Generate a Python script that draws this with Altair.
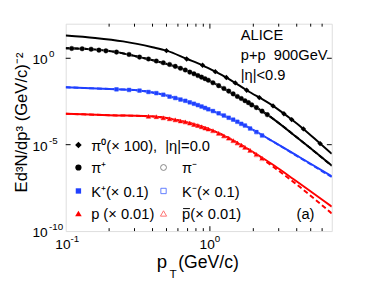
import altair as alt
import pandas as pd

FONT = "Liberation Sans"
BLUE = "#2040ff"
RED = "#ff0000"

# ---------------- data ----------------
# fitted curves (pT in GeV/c, invariant yield)
pi0_fit_pt = [0.1, 0.16, 0.25, 0.4, 0.5, 0.694, 0.888, 1.09, 1.3, 1.8, 2.74, 3.69, 4.45, 5.81, 7.0]
pi0_fit_v = [20.8, 15.0, 9.5, 4.36, 2.76, 0.91, 0.392, 0.168, 0.0768, 0.0141, 0.00175, 2.83e-4, 8.2e-5, 1.16e-5, 2.96e-6]

pip_fit_pt = [0.1, 0.15, 0.225, 0.323, 0.421, 0.612, 1.04, 1.49, 2.5, 4.25, 7.0]
pip_fit_v = [3.83, 3.36, 2.27, 1.18, 0.70, 0.282, 0.040, 0.0074, 5.5e-4, 1.8e-5, 6.2e-7]
pim_fit_v = [3.83, 3.36, 2.27, 1.18, 0.70, 0.282, 0.040, 0.0074, 5.5e-4, 1.8e-5, 6.0e-7]

k_fit_pt = [0.1, 0.221, 0.313, 0.427, 0.612, 1.04, 1.744, 2.79, 4.25, 7.0]
kp_fit_v = [0.0209, 0.0161, 0.0141, 0.00955, 0.00437, 9.1e-4, 1.29e-4, 1.41e-5, 1.75e-6, 1.47e-7]
km_fit_v = [0.0209, 0.0161, 0.0141, 0.00955, 0.00437, 9.1e-4, 1.29e-4, 1.38e-5, 1.65e-6, 1.35e-7]

p_fit_pt = [0.1, 0.2, 0.427, 0.612, 1.04, 1.744, 2.79, 3.81, 7.0]
p_fit_v = [6.18e-4, 5.1e-4, 4.18e-4, 2.48e-4, 6.75e-5, 7.36e-6, 6.19e-7, 1.0e-7, 2.6e-9]
pbar_fit_v = [6.18e-4, 5.1e-4, 4.18e-4, 2.48e-4, 6.75e-5, 7.3e-6, 4.8e-7, 6.8e-8, 1.05e-9]

# measured points
pi0_pt = [0.5, 0.69, 0.89, 1.09, 1.3, 1.5, 1.8, 2.2, 2.74, 3.26, 3.69, 4.45, 5.81]
pi0_v = [2.76, 0.91, 0.392, 0.168, 0.0768, 0.0375, 0.0141, 0.0053, 0.00175, 6.2e-4, 2.83e-4, 8.2e-5, 1.16e-5]

pi_pt = [0.11, 0.13, 0.15, 0.17, 0.19, 0.225, 0.275, 0.325, 0.375, 0.425, 0.475, 0.525, 0.575,
         0.625, 0.675, 0.725, 0.775, 0.825, 0.875, 0.925, 0.975, 1.05, 1.15, 1.25, 1.35, 1.45,
         1.55, 1.65, 1.75, 1.85, 1.95, 2.1, 2.3, 2.5]
pip_v = [3.7, 3.55, 3.36, 2.95, 2.69, 2.27, 1.66, 1.17, 0.91, 0.69, 0.55, 0.44, 0.34,
         0.263, 0.209, 0.158, 0.126, 0.100, 0.081, 0.066, 0.054, 0.038, 0.026, 0.018, 0.0126, 0.0087,
         0.0062, 0.0047, 0.0035, 0.0027, 0.0020, 0.0014, 8.7e-4, 5.5e-4]
pim_v = [3.7, 3.55, 3.36, 2.95, 2.69, 2.27, 1.66, 1.17, 0.91, 0.69, 0.55, 0.44, 0.34,
         0.263, 0.209, 0.158, 0.126, 0.100, 0.081, 0.066, 0.054, 0.038, 0.026, 0.018, 0.0126, 0.0087,
         0.0062, 0.0047, 0.0035, 0.0027, 0.0020, 0.0014, 8.7e-4, 5.4e-4]

k_pt = [0.225, 0.275, 0.325, 0.375, 0.425, 0.475, 0.525, 0.575, 0.625, 0.675, 0.725, 0.775,
        0.825, 0.875, 0.925, 0.975, 1.05, 1.15, 1.25, 1.35, 1.45, 1.55, 1.65, 1.75, 1.9, 2.1, 2.3]
kp_v = [0.01596, 0.0148, 0.01346, 0.0112, 0.00962, 0.00776, 0.00603, 0.00501, 0.00407, 0.00347,
        0.00282, 0.00234, 0.00195, 0.00162, 0.00135, 0.00112, 8.9e-4, 6.6e-4, 4.9e-4, 3.63e-4,
        2.82e-4, 2.14e-4, 1.62e-4, 1.29e-4, 8.7e-5, 5.5e-5, 3.47e-5]
km_v = [0.0158, 0.0147, 0.0134, 0.0112, 0.0096, 0.0078, 0.0060, 0.0050, 0.0041, 0.00345,
        0.0028, 0.00233, 0.00194, 0.00161, 0.00134, 0.00111, 8.8e-4, 6.5e-4, 4.8e-4, 3.6e-4,
        2.8e-4, 2.1e-4, 1.6e-4, 1.27e-4, 8.5e-5, 5.3e-5, 3.3e-5]

p_pt = [0.375, 0.425, 0.475, 0.525, 0.575, 0.625, 0.675, 0.725, 0.775, 0.825, 0.875, 0.925,
        0.975, 1.05, 1.15, 1.25, 1.35, 1.45, 1.55, 1.65, 1.75, 1.9, 2.1, 2.3]
p_v = [4.42e-4, 4.17e-4, 3.63e-4, 3.16e-4, 2.75e-4, 2.37e-4, 2.09e-4, 1.78e-4, 1.48e-4, 1.29e-4,
       1.10e-4, 9.3e-5, 8.1e-5, 6.5e-5, 4.6e-5, 3.3e-5, 2.4e-5, 1.74e-5, 1.29e-5, 9.5e-6, 7.2e-6,
       4.8e-6, 2.8e-6, 1.7e-6]
pbar_v = [4.4e-4, 4.15e-4, 3.6e-4, 3.15e-4, 2.74e-4, 2.36e-4, 2.08e-4, 1.77e-4, 1.47e-4, 1.28e-4,
          1.09e-4, 9.2e-5, 8.0e-5, 6.4e-5, 4.5e-5, 3.2e-5, 2.35e-5, 1.7e-5, 1.25e-5, 9.2e-6, 6.9e-6,
          4.6e-6, 2.6e-6, 1.55e-6]

# axes
x_minor_ticks = [0.2, 0.3, 0.4, 0.5, 0.6, 0.7, 0.8, 0.9, 2, 3, 4, 5, 6]
x_major_ticks = [1]
y_ticks = [1e-5, 1]
x_label_vals = [0.1, 1]
x_label_exp = ["-1", "0"]
y_label_vals = [1, 1e-5, 1e-10]
y_label_exp = ["0", "-5", "-10"]

ann_texts = ["ALICE", "p+p\u00a0\u00a0900GeV", "|\u03b7|<0.9", "(a)"]
legend_left = ["\u03c0\u2070(\u00d7 100),\u00a0\u00a0|\u03b7|=0.0", "\u03c0\u207a", "K\u207a(\u00d7 0.1)", "p (\u00d7 0.01)"]
legend_right = ["\u03c0\u207b", "K\u207b(\u00d7 0.1)", "p(\u00d7 0.01)"]
y_title = "Ed\u00b3N/dp\u00b3 (GeV/c)\u207b\u00b2"
x_title_parts = ["p", "T", "(GeV/c)"]

# ---------------- chart ----------------
XS = alt.Scale(type="log", domain=[0.1, 7], nice=False)
YS = alt.Scale(type="log", domain=[1e-10, 100], nice=False)
X = alt.X("pt:Q", scale=XS, axis=None)
Y = alt.Y("v:Q", scale=YS, axis=None)


def frame(pt, v):
    return pd.DataFrame({"pt": pt, "v": v})


dummy = pd.DataFrame({"a": [0]})
layers = []


def line(pt, v, color, dash=None, width=2):
    kw = dict(color=color, strokeWidth=width, interpolate="monotone", clip=True)
    if dash:
        kw["strokeDash"] = dash
    return alt.Chart(frame(pt, v)).mark_line(**kw).encode(x=X, y=Y)


# fit lines
layers += [
    line(pi0_fit_pt, pi0_fit_v, "black"),
    line(pip_fit_pt, pip_fit_v, "black"),
    line(pip_fit_pt, pim_fit_v, "black", [5, 3]),
    line(k_fit_pt, kp_fit_v, BLUE),
    line(k_fit_pt, km_fit_v, BLUE, [5, 3]),
    line(p_fit_pt, p_fit_v, RED),
    line(p_fit_pt, pbar_fit_v, RED, [5, 3]),
]


def pts(pt, v, shape, color, size, filled=True):
    if filled:
        m = alt.Chart(frame(pt, v)).mark_point(shape=shape, filled=True, color=color, size=size, opacity=1, strokeWidth=0)
    else:
        m = alt.Chart(frame(pt, v)).mark_point(shape=shape, filled=False, color=color, size=size, opacity=1, strokeWidth=0.8)
    return m.encode(x=X, y=Y)


layers += [
    pts(pi_pt, pim_v, "circle", "#888888", 22, False),
    pts(k_pt, km_v, "square", "#7090ff", 14, False),
    pts(p_pt, pbar_v, "triangle-up", "#ff7070", 22, False),
    pts(pi_pt, pip_v, "circle", "black", 22),
    pts(pi0_pt, pi0_v, "diamond", "black", 30),
    pts(k_pt, kp_v, "square", BLUE, 14),
    pts(p_pt, p_v, "triangle-up", RED, 22),
]

# inward ticks
H, W = 212, 272
xt_minor = pd.DataFrame({"pt": x_minor_ticks})
xt_major = pd.DataFrame({"pt": x_major_ticks})
yt = pd.DataFrame({"v": y_ticks})
rule = dict(color="black", strokeWidth=1)
layers += [
    alt.Chart(xt_minor).mark_rule(**rule).encode(x=X, y=alt.value(H), y2=alt.value(H - 3)),
    alt.Chart(xt_minor).mark_rule(**rule).encode(x=X, y=alt.value(0), y2=alt.value(3)),
    alt.Chart(xt_major).mark_rule(**rule).encode(x=X, y=alt.value(H), y2=alt.value(H - 5)),
    alt.Chart(xt_major).mark_rule(**rule).encode(x=X, y=alt.value(0), y2=alt.value(5)),
    alt.Chart(yt).mark_rule(**rule).encode(y=Y, x=alt.value(0), x2=alt.value(5)),
    alt.Chart(yt).mark_rule(**rule).encode(y=Y, x=alt.value(W), x2=alt.value(W - 5)),
]

# tick labels
xl = pd.DataFrame({"pt": x_label_vals, "base": ["10"] * len(x_label_vals), "exp": x_label_exp})
yl = pd.DataFrame({"v": y_label_vals, "base": ["10"] * len(y_label_vals), "exp": y_label_exp})
layers += [
    alt.Chart(xl).mark_text(font=FONT, fontSize=14, align="right", baseline="alphabetic", dx=5)
    .encode(x=X, y=alt.value(230), text="base:N"),
    alt.Chart(xl).mark_text(font=FONT, fontSize=10, align="left", baseline="alphabetic", dx=5)
    .encode(x=X, y=alt.value(223), text="exp:N"),
    alt.Chart(yl).mark_text(font=FONT, fontSize=14, align="left", baseline="alphabetic", dy=6)
    .encode(y=Y, x=alt.value(-34), text="base:N"),
    alt.Chart(yl).mark_text(font=FONT, fontSize=10, align="left", baseline="alphabetic", dy=-1)
    .encode(y=Y, x=alt.value(-17), text="exp:N"),
]

# axis titles
layers += [
    alt.Chart(dummy).mark_text(text=y_title, font=FONT, fontSize=17, angle=270, align="center",
                               baseline="alphabetic", x=-40, y=101),
    alt.Chart(dummy).mark_text(text=x_title_parts[0], font=FONT, fontSize=19, align="left",
                               baseline="alphabetic", x=93, y=250),
    alt.Chart(dummy).mark_text(text=x_title_parts[1], font=FONT, fontSize=12, align="left",
                               baseline="alphabetic", x=106, y=260),
    alt.Chart(dummy).mark_text(text=x_title_parts[2], font=FONT, fontSize=18, align="left",
                               baseline="alphabetic", x=115, y=250),
]

# annotations
ann_pos = [(179, 17), (179, 37), (179, 58), (236, 200)]
for t, (ax, ay) in zip(ann_texts, ann_pos):
    layers.append(alt.Chart(dummy).mark_text(text=t, font=FONT, fontSize=15, align="left",
                                             baseline="alphabetic", x=ax, y=ay))

# legend
rows = [124, 147, 171, 194]
lsym = [("diamond", "black", 45), ("circle", "black", 40), ("square", BLUE, 30), ("triangle-up", RED, 45)]
for (shape, col, sz), ry, txt in zip(lsym, rows, legend_left):
    layers.append(alt.Chart(dummy).mark_point(shape=shape, filled=True, color=col, size=sz, opacity=1,
                                              strokeWidth=0, x=13, y=ry))
    layers.append(alt.Chart(dummy).mark_text(text=txt, font=FONT, fontSize=15, align="left",
                                             baseline="middle", x=26, y=ry + 1))
rsym = [("circle", "#777777", 36), ("square", "#5070ff", 30), ("triangle-up", "#ff6060", 40)]
for (shape, col, sz), ry, txt in zip(rsym, rows[1:], legend_right):
    layers.append(alt.Chart(dummy).mark_point(shape=shape, filled=False, color=col, size=sz, opacity=1,
                                              strokeWidth=0.9, x=100, y=ry))
    layers.append(alt.Chart(dummy).mark_text(text=txt, font=FONT, fontSize=15, align="left",
                                             baseline="middle", x=119, y=ry + 1))
# bar over the antiproton "p"
layers.append(alt.Chart(dummy).mark_rule(color="black", strokeWidth=1)
              .encode(x=alt.value(120), x2=alt.value(127), y=alt.value(rows[3] - 5)))

chart = alt.layer(*layers).properties(
    width=W, height=H,
    autosize=alt.AutoSizeParams(type="none"),
    padding={"left": 59, "top": 13, "right": 35, "bottom": 49},
).configure_view(stroke="black", strokeWidth=1.3).configure(background="white")

chart.save("out.html", embed_options={"renderer": "svg", "actions": False})
